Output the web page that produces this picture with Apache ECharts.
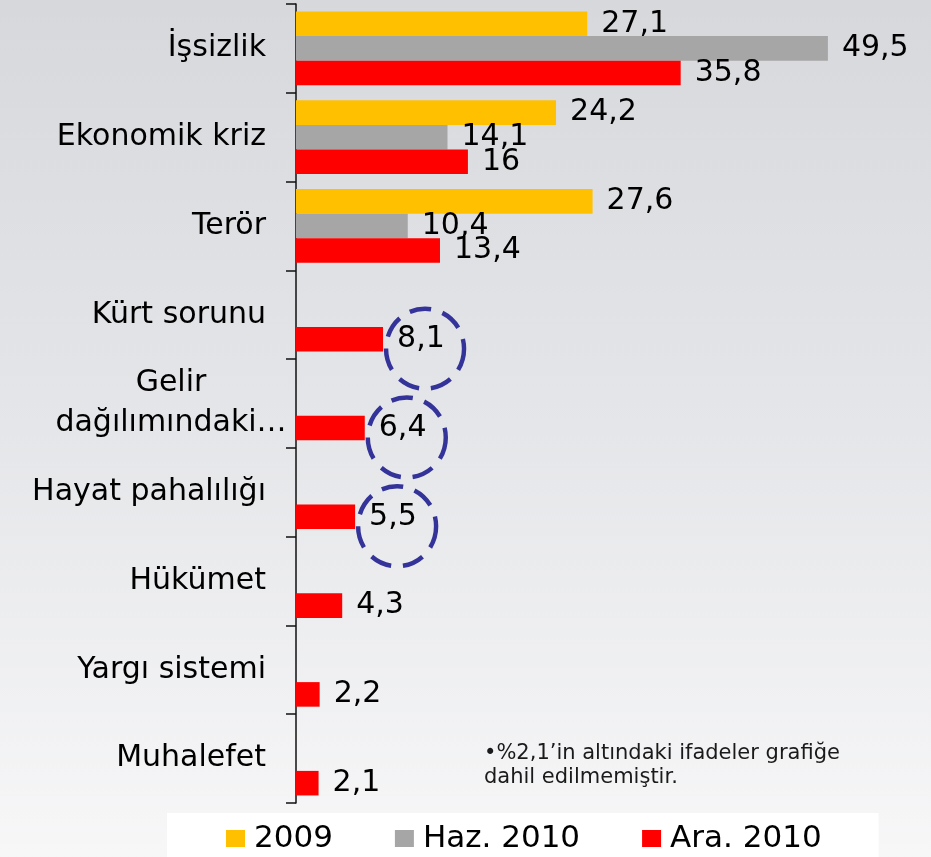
<!DOCTYPE html>
<html>
<head>
<meta charset="utf-8">
<title>Sorunlar</title>
<script src="https://cdn.jsdelivr.net/npm/echarts@6/dist/echarts.min.js"></script>
<style>
  html, body { margin: 0; padding: 0; }
  #chart { width: 931px; height: 857px; }
</style>
</head>
<body>
<div id="chart"></div>
<script>
// data, top to bottom
const categories = [
  'İşsizlik', 'Ekonomik kriz', 'Terör', 'Kürt sorunu', 'Gelir\ndağılımındaki…',
  'Hayat pahalılığı', 'Hükümet', 'Yargı sistemi', 'Muhalefet',
];
const seriesNames = ['2009', 'Haz. 2010', 'Ara. 2010'];
const y2009 = [27.1, 24.2, 27.6, null, null, null, null, null, null];
const haz2010 = [49.5, 14.1, 10.4, null, null, null, null, null, null];
const ara2010 = [35.8, 16, 13.4, 8.1, 6.4, 5.5, 4.3, 2.2, 2.1];
const circledIdx = [3, 4, 5];
const noteLines = ['•%2,1’in altındaki ifadeler grafiğe', 'dahil edilmemiştir.'];

const COLORS = ['#FFC000', '#A6A6A6', '#FF0000'];
const FONT = "'DejaVu Sans', Verdana, sans-serif";

const fmt = (p) => String(p.value).replace('.', ',');

function barSeries(name, data, color) {
  return {
    name,
    type: 'bar',
    data,
    barGap: '0%',
    barCategoryGap: '17%',
    itemStyle: { color },
    label: {
      show: true,
      position: 'right',
      distance: 14,
      color: '#000',
      fontSize: 30,
      fontFamily: FONT,
      formatter: fmt,
    },
    silent: true,
  };
}

const yData = categories.map((c) => {
  if (c.indexOf('\n') < 0) return c;
  // two-line label: lines centred on each other, shifted left of the anchor
  return { value: c, textStyle: { align: 'center', lineHeight: 40, padding: [0, 190, 0, 0] } };
});

const chart = echarts.init(document.getElementById('chart'));
chart.setOption({
  animation: false,
  backgroundColor: {
    type: 'linear', x: 0, y: 0, x2: 0, y2: 1,
    colorStops: [
      { offset: 0, color: '#D7D8DC' },
      { offset: 0.5, color: '#E5E6E9' },
      { offset: 1, color: '#F7F7F8' },
    ],
  },
  textStyle: { fontFamily: FONT },
  grid: { left: 296, right: 44, top: 4, bottom: 54 },
  xAxis: { type: 'value', min: 0, max: 55, show: false },
  yAxis: {
    type: 'category',
    inverse: true,
    data: yData,
    axisLine: { show: true, lineStyle: { color: '#111', width: 1.5 } },
    axisTick: { show: true, alignWithLabel: false, length: 10, lineStyle: { color: '#111', width: 1.5 } },
    axisLabel: { color: '#000', fontSize: 30, margin: 30, fontFamily: FONT },
  },
  legend: {
    data: seriesNames,
    left: 167,
    top: 813,
    padding: [10, 57, 10, 59],
    backgroundColor: '#FFFFFF',
    icon: 'rect',
    itemWidth: 19,
    itemHeight: 17,
    itemGap: 62,
    textStyle: { color: '#000', fontSize: 31, fontFamily: FONT, padding: [0, 0, 0, 4] },
    selectedMode: false,
  },
  graphic: [
    {
      type: 'text',
      left: 484,
      top: 742,
      silent: true,
      style: {
        text: noteLines.join('\n'),
        fill: '#1a1a1a',
        fontSize: 21,
        lineHeight: 24,
        fontFamily: FONT,
      },
    },
  ],
  series: [
    barSeries(seriesNames[0], y2009, COLORS[0]),
    barSeries(seriesNames[1], haz2010, COLORS[1]),
    barSeries(seriesNames[2], ara2010, COLORS[2]),
    {
      name: 'circled',
      type: 'scatter',
      data: circledIdx.map((i) => [ara2010[i], i]),
      symbol: 'circle',
      symbolSize: [78, 80],
      symbolOffset: [42, 34],
      itemStyle: {
        color: 'rgba(0,0,0,0)',
        opacity: 1,
        borderColor: '#333399',
        borderWidth: 4.5,
        borderType: [22, 12],
      },
      z: 5,
      silent: true,
    },
  ],
});
</script>
</body>
</html>
